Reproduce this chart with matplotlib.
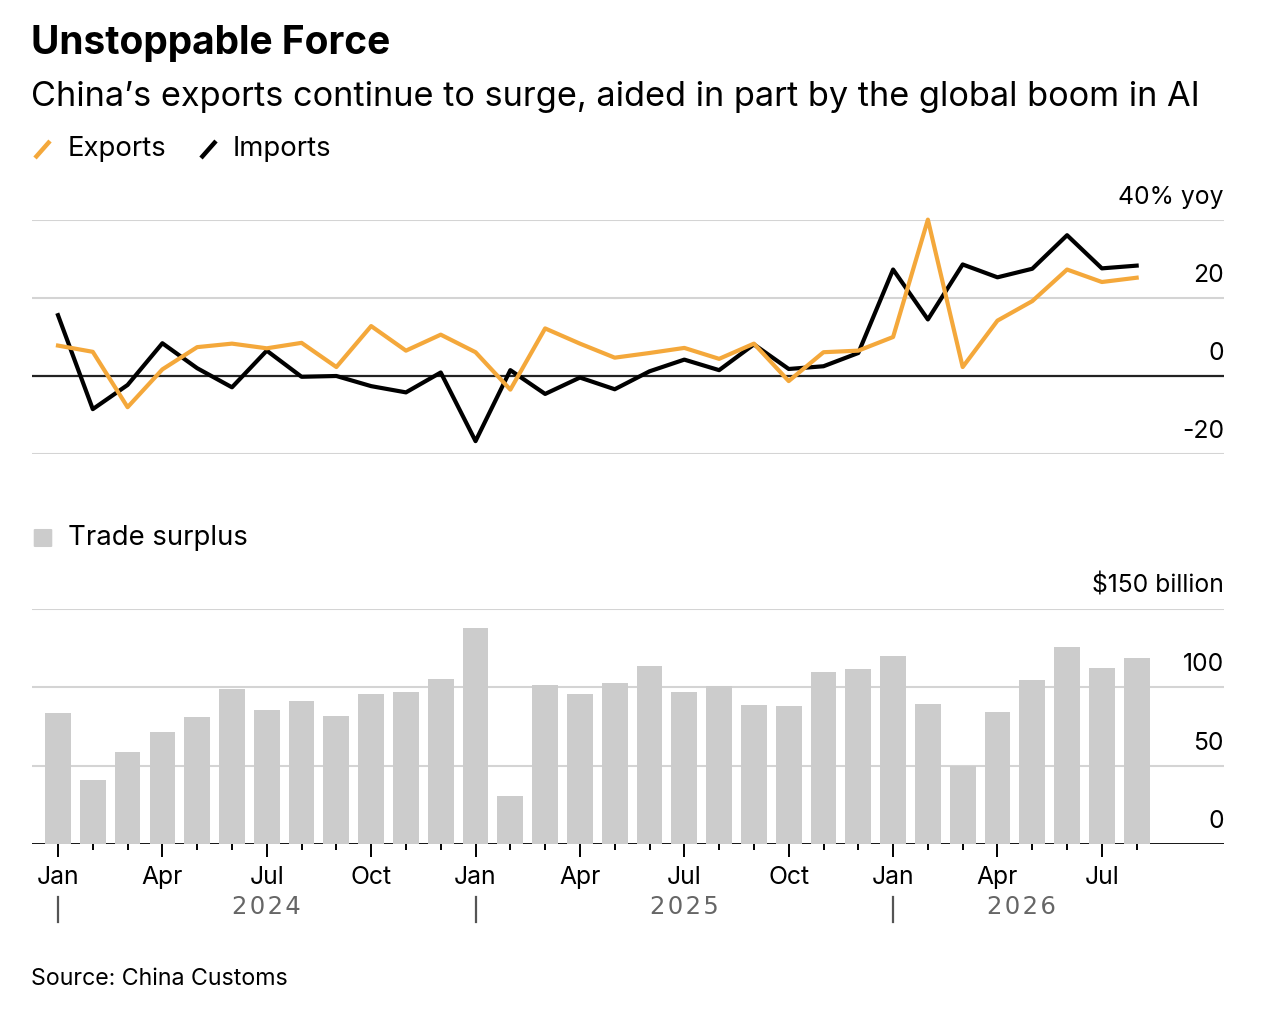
import matplotlib.pyplot as plt
from matplotlib.lines import Line2D
from matplotlib.patches import FancyBboxPatch

plt.rcParams['font.family'] = ['Inter', 'DejaVu Sans']

# monthly data, Jan 2024 .. Aug 2026
months = ['Jan', 'Feb', 'Mar', 'Apr', 'May', 'Jun', 'Jul', 'Aug', 'Sep', 'Oct', 'Nov', 'Dec'] * 2 + \
         ['Jan', 'Feb', 'Mar', 'Apr', 'May', 'Jun', 'Jul', 'Aug']
exports = [7.8, 6.2, -8.0, 1.7, 7.4, 8.3, 7.1, 8.5, 2.3, 12.8, 6.5, 10.6,
           6.1, -3.5, 12.2, 8.3, 4.7, 5.9, 7.2, 4.4, 8.3, -1.3, 6.1, 6.5,
           10.0, 40.1, 2.3, 14.2, 19.2, 27.3, 24.1, 25.2]
imports = [15.6, -8.5, -2.3, 8.4, 2.0, -2.9, 6.5, -0.2, 0.0, -2.6, -4.2, 0.9,
           -16.7, 1.5, -4.6, -0.4, -3.4, 1.2, 4.2, 1.5, 8.1, 1.8, 2.5, 5.9,
           27.3, 14.5, 28.6, 25.3, 27.5, 36.1, 27.6, 28.3]
surplus = [83.6, 40.6, 58.5, 71.7, 81.3, 98.9, 85.3, 91.5, 81.7, 95.5, 97.2, 105.1,
           137.7, 30.9, 101.7, 95.7, 102.6, 113.6, 97.2, 101.1, 88.5, 87.9, 109.8, 111.9,
           120.2, 89.4, 50.0, 84.5, 104.9, 125.5, 112.1, 118.9]
years = ['2024', '2025', '2026']
year_pos = [6, 18, 27.7]
line_ticks = [40, 20, 0, -20]
line_labels = ['40% yoy', '20', '0', '-20']
bar_ticks = [150, 100, 50, 0]
bar_labels = ['$150 billion', '100', '50', '0']

W, H = 1280, 1028
orange = '#F4A83B'
grid_c = '#d4d4d4'
x = list(range(len(months)))


def fy(py):
    return 1 - py / H


fig = plt.figure(figsize=(W / 100, H / 100), dpi=100)

# titulo y subtitulo
fig.text(31 / W, fy(43), 'Unstoppable Force', fontsize=28, fontweight='bold', va='center', ha='left')
fig.text(31 / W, fy(97), 'China\u2019s exports continue to surge, aided in part by the global boom in AI',
         fontsize=24.7, va='center', ha='left')

# leyenda de lineas
fig.add_artist(Line2D([35 / W, 50 / W], [fy(158), fy(141)], color=orange, lw=3.2, solid_capstyle='butt'))
fig.text(68 / W, fy(149), 'Exports', fontsize=19.8, va='center')
fig.add_artist(Line2D([201 / W, 216 / W], [fy(158), fy(141)], color='black', lw=3.2, solid_capstyle='butt'))
fig.text(233 / W, fy(149), 'Imports', fontsize=19.8, va='center')

xlim = (-0.747, 33.51)

# grafico de lineas
ax1 = fig.add_axes([32 / W, fy(454), 1192 / W, 234 / H])
ax1.set_xlim(*xlim)
ax1.set_ylim(-20, 40)
for t in [40, 20, -20]:
    ax1.axhline(t, color=grid_c, lw=1.5, zorder=0)
ax1.axhline(0, color='#222222', lw=1.6, zorder=1)
ax1.plot(x, exports, color=orange, lw=3.0, zorder=3, clip_on=False, solid_joinstyle='round')
ax1.plot(x, imports, color='black', lw=3.0, zorder=2, clip_on=False, solid_joinstyle='round')
for t, lab in zip(line_ticks, line_labels):
    ax1.annotate(lab, (1, t), xycoords=ax1.get_yaxis_transform(), xytext=(0, 8),
                 textcoords='offset points', ha='right', va='bottom', fontsize=17.8)
ax1.axis('off')

# leyenda barras
fig.add_artist(FancyBboxPatch((35 / W, fy(546)), 16 / W, 16 / H, boxstyle='round,pad=0.001',
                              facecolor='#cccccc', edgecolor='none'))
fig.text(68 / W, fy(538), 'Trade surplus', fontsize=19.8, va='center')

# grafico de barras
ax2 = fig.add_axes([32 / W, fy(844), 1192 / W, 235 / H])
ax2.set_xlim(*xlim)
ax2.set_ylim(0, 150)
for t in [150, 100, 50]:
    ax2.axhline(t, color=grid_c, lw=1.5, zorder=0)
ax2.bar(x, surplus, width=0.74, color='#cccccc', zorder=2)
ax2.axhline(0, color='black', lw=2, zorder=1)
for t, lab in zip(bar_ticks, bar_labels):
    ax2.annotate(lab, (1, t), xycoords=ax2.get_yaxis_transform(), xytext=(0, 8),
                 textcoords='offset points', ha='right', va='bottom', fontsize=17.8)
for s in ax2.spines.values():
    s.set_visible(False)
ax2.set_yticks([])
major = [i for i in x if i % 3 == 0]
minor = [i for i in x if i % 3 != 0]
ax2.set_xticks(major)
ax2.set_xticklabels([months[i] for i in major], fontsize=17.8)
ax2.set_xticks(minor, minor=True)
ax2.tick_params(axis='x', which='major', length=9, width=1.4, color='black', pad=7)
ax2.tick_params(axis='x', which='minor', length=4, width=1.4, color='black')

# anios
for yp, yl in zip(year_pos, years):
    ax2.text(yp, -0.27, '\u200a'.join(yl), transform=ax2.get_xaxis_transform(), ha='center', va='center',
             fontsize=17.5, color='#666666', family=['DejaVu Sans'])
for j in [0, 12, 24]:
    ax2.plot([j, j], [-0.225, -0.33], transform=ax2.get_xaxis_transform(), color='#555555',
             lw=1.6, clip_on=False)

fig.text(31 / W, fy(979), 'Source: China Customs', fontsize=16.7, va='center')

fig.savefig('out.png', dpi=100, facecolor='white')
